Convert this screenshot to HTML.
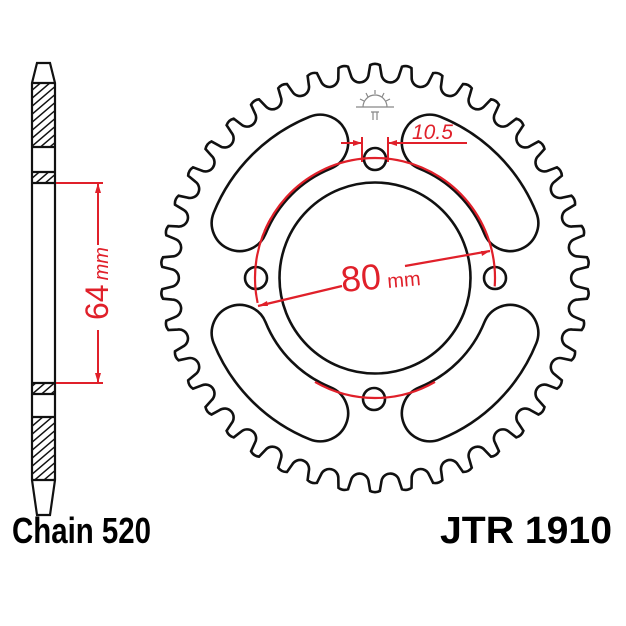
<!DOCTYPE html>
<html><head><meta charset="utf-8"><style>
html,body{margin:0;padding:0;background:#fff;width:626px;height:626px;overflow:hidden}
svg{display:block}
</style></head><body>
<svg id="s" width="626" height="626" viewBox="0 0 626 626" xmlns="http://www.w3.org/2000/svg">
<g id="sp" fill="none" stroke="#111" stroke-width="2.6"></g>
<!-- side bar -->
<g stroke="#111" stroke-width="2.2" fill="#fff">
<path d="M37,63 L50,63 L55,83 L55,480 L50,515 L37,515 L32,480 L32,83 Z"/>
<line x1="32" y1="83" x2="55" y2="83"/><line x1="32" y1="147" x2="55" y2="147"/>
<line x1="32" y1="172" x2="55" y2="172"/><line x1="32" y1="183" x2="55" y2="183"/>
<line x1="32" y1="383" x2="55" y2="383"/><line x1="32" y1="394" x2="55" y2="394"/>
<line x1="32" y1="417" x2="55" y2="417"/><line x1="32" y1="480" x2="55" y2="480"/>
</g>
<defs><clipPath id="h1"><rect x="32" y="83" width="23" height="64"/><rect x="32" y="172" width="23" height="11"/><rect x="32" y="383" width="23" height="11"/><rect x="32" y="417" width="23" height="63"/></clipPath></defs>
<g clip-path="url(#h1)" stroke="#111" stroke-width="1.5" id="hatch"></g>
<!-- 64 mm dimension -->
<g stroke="#e0202a" stroke-width="2" fill="#e0202a">
<line x1="56" y1="183" x2="103" y2="183"/><line x1="56" y1="383" x2="103" y2="383"/>
<line x1="98" y1="183" x2="98" y2="245"/><line x1="98" y1="330" x2="98" y2="383"/>
<path d="M98,183 l-3,10 l6,0 z" stroke="none"/><path d="M98,383 l-3,-10 l6,0 z" stroke="none"/>
</g>
<text transform="translate(108,320) rotate(-90)" font-family="Liberation Sans,sans-serif" font-size="32" fill="#e0202a">64<tspan font-size="20" font-style="italic" dx="4">mm</tspan></text>
<!-- 80 mm -->
<g stroke="#e0202a" stroke-width="2.2" fill="none" id="red"></g>
<text transform="translate(342,292) rotate(-5)" font-family="Liberation Sans,sans-serif" font-size="36" fill="#e0202a">80<tspan font-size="20" dx="6">mm</tspan></text>
<!-- 10.5 -->
<g stroke="#e0202a" stroke-width="2" fill="#e0202a">
<line x1="341" y1="143" x2="362" y2="143"/><line x1="388" y1="143" x2="467" y2="143"/>
<line x1="362" y1="137" x2="362" y2="162"/><line x1="388" y1="137" x2="388" y2="162"/>
<path d="M362,143 l-9,-3 l0,6 z" stroke="none"/><path d="M388,143 l9,-3 l0,6 z" stroke="none"/>
</g>
<text x="412" y="139" font-family="Liberation Sans,sans-serif" font-size="21" font-style="italic" fill="#e0202a">10.5</text>
<!-- logo -->
<g stroke="#888" stroke-width="1.2" fill="none">
<path d="M363,107 a12,12 0 0 1 24,0"/><line x1="356" y1="107" x2="394" y2="107"/>
<line x1="375" y1="90" x2="375" y2="94"/><line x1="366" y1="93" x2="368" y2="97"/><line x1="384" y1="93" x2="382" y2="97"/>
<line x1="360" y1="99" x2="364" y2="101"/><line x1="390" y1="99" x2="386" y2="101"/>
<path d="M371,112 l8,0 M373,112 l0,8 M377,112 l0,8"/>
</g>
<text x="12" y="543" font-family="Liberation Sans,sans-serif" font-weight="bold" font-size="36" textLength="139" lengthAdjust="spacingAndGlyphs">Chain 520</text>
<text x="440" y="543" font-family="Liberation Sans,sans-serif" font-weight="bold" font-size="38" textLength="172" lengthAdjust="spacingAndGlyphs">JTR 1910</text>
</svg>
<script>
var NS="http://www.w3.org/2000/svg",cx=375,cy=278;
function P(r,a){a=a*Math.PI/180;return (cx+r*Math.cos(a)).toFixed(2)+","+(cy+r*Math.sin(a)).toFixed(2);}
function el(t,at,par){var e=document.createElementNS(NS,t);for(var k in at)e.setAttribute(k,at[k]);document.getElementById(par).appendChild(e);return e;}
// teeth
var N=42,p=360/N,R=214,Rg=204,g=2.5,d="";
for(var i=0;i<N;i++){var t=-90+i*p;
 d+=(i==0?"M":"L")+P(R-1,t-1.3)+" Q"+P(R+1.5,t)+" "+P(R-1,t+1.3)+" L"+P(Rg,t+p/2-g)+" A9,9 0 0 0 "+P(Rg,t+p/2+g)+" ";}
el("path",{d:d+"Z"},"sp");
el("circle",{cx:cx,cy:cy,r:95.5},"sp");
[[375,159],[256,278],[495,278],[374,399]].forEach(function(h){el("circle",{cx:h[0],cy:h[1],r:11},"sp");});
// slots
[-135,-45,45,135].forEach(function(c){
 var a1=c-23,a2=c+23,r=146,w=28;
 var s="M"+P(r+w,a1)+" A"+(r+w)+","+(r+w)+" 0 0 1 "+P(r+w,a2)+" A"+w+","+w+" 0 0 1 "+P(r-w,a2)+" A"+(r-w)+","+(r-w)+" 0 0 0 "+P(r-w,a1)+" A"+w+","+w+" 0 0 1 "+P(r+w,a1)+" Z";
 el("path",{d:s},"sp");});
// red arcs
function arc(r,a1,a2){return "M"+P(r,a1)+" A"+r+","+r+" 0 "+((a2-a1)>180?1:0)+" 1 "+P(r,a2);}
el("path",{d:arc(120,-157,4)},"red");
el("path",{d:arc(120,168,210)},"red");
el("path",{d:arc(120,60,120)},"red");
el("path",{d:"M258,306 L342,286 M405,266 L490,251"},"red");
el("path",{d:"M258,306 l9,-5 l1,5 z M490,251 l-9,0 l1,5 z",fill:"#e0202a",stroke:"none"},"red");
// hatch
for(var y=60;y<520;y+=8){el("line",{x1:30,y1:y+24,x2:58,y2:y},"hatch");}
</script>
</body></html>
